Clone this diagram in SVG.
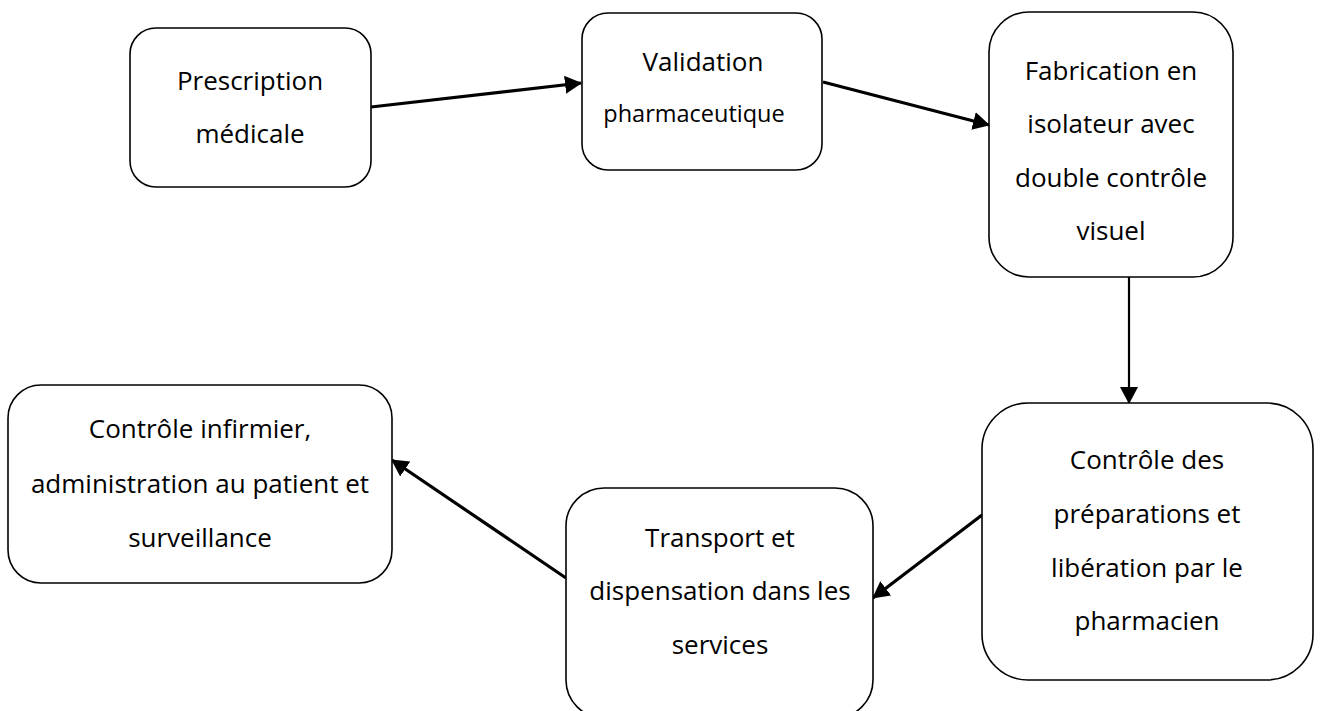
<svg xmlns="http://www.w3.org/2000/svg" width="1321" height="711" viewBox="0 0 1321 711">
<defs>
<style>
.box{fill:#fff;stroke:#000;stroke-width:1.6}
.t{font-family:"Open Sans","Liberation Sans",sans-serif;font-size:26px;fill:#000;text-anchor:middle}
.s{font-size:23.5px}
.c{stroke:#000;fill:none}
</style>
<marker id="ah" markerUnits="userSpaceOnUse" markerWidth="18" markerHeight="20" viewBox="0 0 18 20" refX="16" refY="10" orient="auto">
<path d="M0,1 L17,10 L0,19 Z" fill="#000"/>
</marker>
</defs>
<rect width="1321" height="711" fill="#fff"/>
<g id="connectors">
<line class="c" stroke-width="3.2" x1="371" y1="107" x2="581" y2="83" marker-end="url(#ah)"/>
<line class="c" stroke-width="3.2" x1="823" y1="82" x2="989" y2="125" marker-end="url(#ah)"/>
<line class="c" stroke-width="2.2" x1="1129" y1="276" x2="1129" y2="403" marker-end="url(#ah)"/>
<line class="c" stroke-width="3.2" x1="982" y1="515" x2="873" y2="598" marker-end="url(#ah)"/>
<line class="c" stroke-width="3.2" x1="566" y1="578" x2="392" y2="460" marker-end="url(#ah)"/>
</g>
<g id="n1">
<rect class="box" x="130" y="28" width="241" height="159" rx="26" ry="26"/>
<text class="t" x="250" y="90">Prescription</text>
<text class="t" x="250" y="143">médicale</text>
</g>
<g id="n2">
<rect class="box" x="582" y="13" width="240" height="157" rx="26" ry="26"/>
<text class="t" x="703" y="71">Validation</text>
<text class="t s" x="694" y="122">pharmaceutique</text>
</g>
<g id="n3">
<rect class="box" x="989" y="12" width="244" height="265" rx="40" ry="40"/>
<text class="t" x="1111" y="80">Fabrication en</text>
<text class="t" x="1111" y="133">isolateur avec</text>
<text class="t" x="1111" y="187">double contrôle</text>
<text class="t" x="1111" y="240">visuel</text>
</g>
<g id="n4">
<rect class="box" x="982" y="403" width="331" height="277" rx="46" ry="46"/>
<text class="t" x="1147" y="469">Contrôle des</text>
<text class="t" x="1147" y="523">préparations et</text>
<text class="t" x="1147" y="577">libération par le</text>
<text class="t" x="1147" y="630">pharmacien</text>
</g>
<g id="n5">
<rect class="box" x="566" y="488" width="307" height="230" rx="38" ry="38"/>
<text class="t" x="720" y="547">Transport et</text>
<text class="t" x="720" y="600">dispensation dans les</text>
<text class="t" x="720" y="654">services</text>
</g>
<g id="n6">
<rect class="box" x="8" y="385" width="384" height="198" rx="33" ry="33"/>
<text class="t" x="200" y="438">Contrôle infirmier,</text>
<text class="t" x="200" y="493">administration au patient et</text>
<text class="t" x="200" y="547">surveillance</text>
</g>
</svg>
